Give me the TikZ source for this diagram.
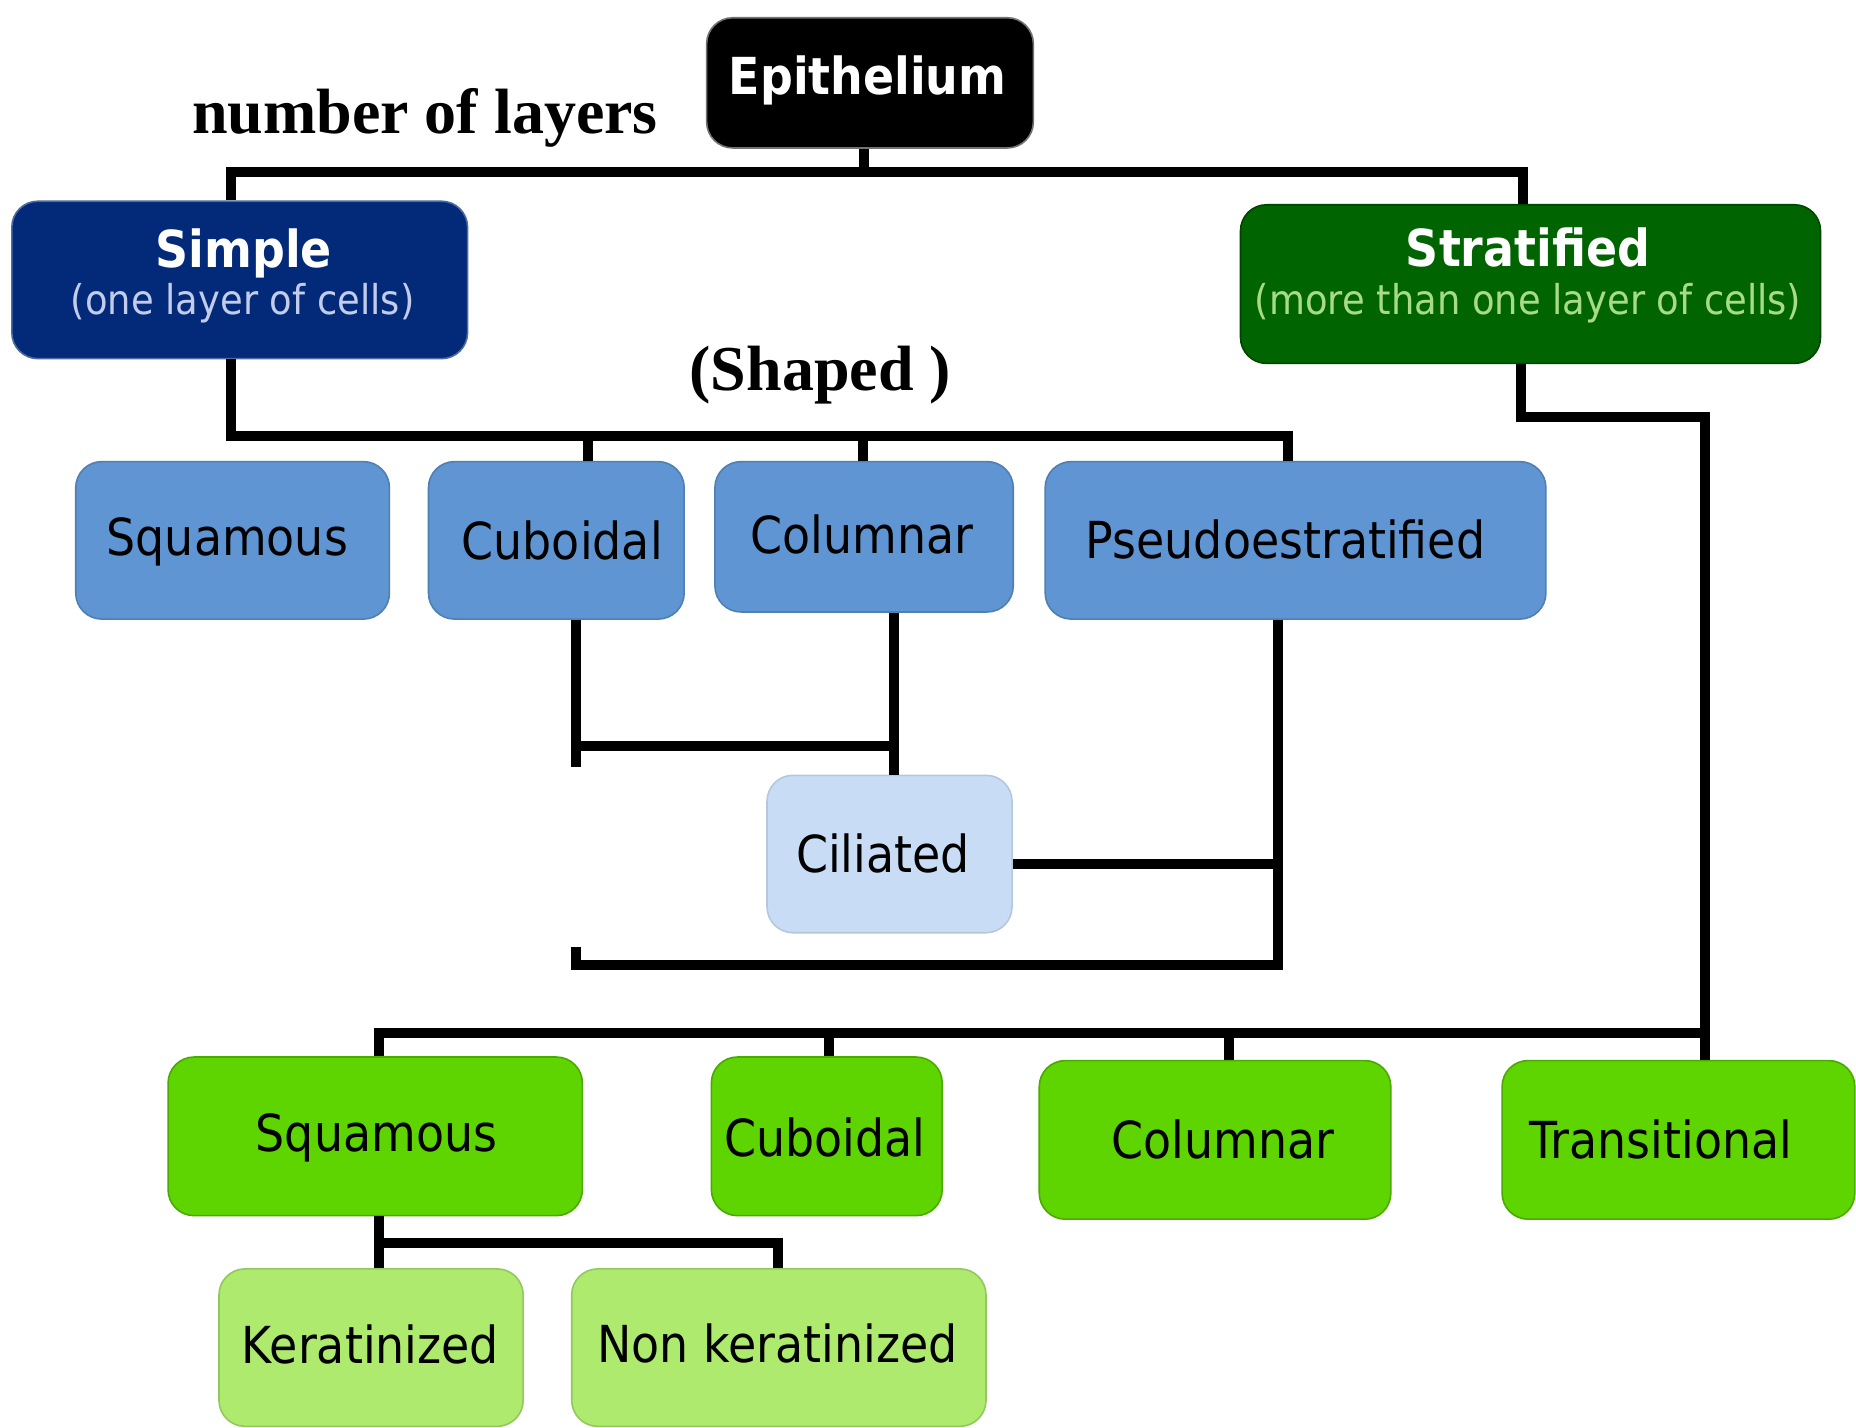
\documentclass[tikz,border=0pt]{standalone}
\usepackage{fontspec}
\usetikzlibrary{fit}
\newfontfamily\dv{DejaVu Sans}[FakeStretch=0.9]
\newfontfamily\tnr{Liberation Serif}
\definecolor{epic}{HTML}{000000}
\definecolor{simplec}{HTML}{022A78}
\definecolor{stratc}{HTML}{006400}
\definecolor{rowtwo}{HTML}{5E95D2}
\definecolor{ciliac}{HTML}{C8DDF5}
\definecolor{rowthree}{HTML}{5ED400}
\definecolor{rowfour}{HTML}{AEEA6E}
\definecolor{subblue}{HTML}{C3CDEB}
\definecolor{subgreen}{HTML}{A8DC84}
\tikzset{
  box/.style={rounded corners=13pt, inner sep=0pt, line width=0.8pt},
  lab/.style={inner sep=0pt, anchor=base, font=\dv\fontsize{25.5}{30}\selectfont},
  titl/.style={inner sep=0pt, anchor=base, text=white, font=\dv\bfseries\fontsize{25.5}{30}\selectfont},
  subt/.style={inner sep=0pt, anchor=base, font=\dv\fontsize{20.5}{24}\selectfont},
  conn/.style={line width=5pt, line join=miter},
  serifl/.style={font=\tnr\bfseries\fontsize{32}{36}\selectfont, inner sep=0pt}
}
\begin{document}
\begin{tikzpicture}[x=0.5918pt, y=-0.5918pt]
\useasboundingbox (0,0) rectangle (1568,1206);
\fill[white] (0,0) rectangle (1568,1206);
% boxes
\node[box, fill=epic, draw=black!55, fit={(597,15) (873,125)}] (epi) {};
\node[box, fill=simplec, draw=simplec!70!white, fit={(10,170) (395,303)}] (simple) {};
\node[box, fill=stratc, draw=stratc!70!black, fit={(1048,173) (1538,307)}] (strat) {};
\node[box, fill=rowtwo, draw=rowtwo!85!black, fit={(64,390) (329,523)}] (sq1) {};
\node[box, fill=rowtwo, draw=rowtwo!85!black, fit={(362,390) (578,523)}] (cub1) {};
\node[box, fill=rowtwo, draw=rowtwo!85!black, fit={(604,390) (856,517)}] (col1) {};
\node[box, fill=rowtwo, draw=rowtwo!85!black, fit={(883,390) (1306,523)}] (pse) {};
\node[box, fill=ciliac, draw=ciliac!90!black, fit={(648,655) (855,788)}] (cil) {};
\node[box, fill=rowthree, draw=rowthree!80!black, fit={(142,893) (492,1027)}] (sq2) {};
\node[box, fill=rowthree, draw=rowthree!80!black, fit={(601,893) (796,1027)}] (cub2) {};
\node[box, fill=rowthree, draw=rowthree!80!black, fit={(878,896) (1175,1030)}] (col2) {};
\node[box, fill=rowthree, draw=rowthree!80!black, fit={(1269,896) (1567,1030)}] (trans) {};
\node[box, fill=rowfour, draw=rowfour!85!black, fit={(185,1072) (442,1205)}] (ker) {};
\node[box, fill=rowfour, draw=rowfour!85!black, fit={(483,1072) (833,1205)}] (nonk) {};
% texts
\node[titl] (tepi) at (733,80) {Epithelium};
\node[titl] (tsim) at (206,226) {Simple};
\node[subt, text=subblue] (tsim2) at (205,266) {(one layer of cells)};
\node[titl] (tstr) at (1291,225) {Stratified};
\node[subt, text=subgreen] (tstr2) at (1291,266) {(more than one layer of cells)};
\node[lab] (tsq1) at (192,469) {Squamous};
\node[lab] (tcub1) at (475,473) {Cuboidal};
\node[lab] (tcol1) at (728,468) {Columnar};
\node[lab] (tpse) at (1086,472) {Pseudoestratified};
\node[lab] (tcil) at (746,737) {Ciliated};
\node[lab] (tsq2) at (318,973) {Squamous};
\node[lab] (tcub2) at (697,977) {Cuboidal};
\node[lab] (tcol2) at (1033,979) {Columnar};
\node[lab] (ttra) at (1403,979) {Transitional};
\node[lab] (tker) at (313,1152) {Keratinized};
\node[lab] (tnonk) at (657,1151) {Non keratinized};
% labels
\node[serifl, anchor=base] (nl) at (359,113) {number of layers};
\node[serifl, anchor=base] (shp) at (693,330) {(Shaped )};
% coordinates
\coordinate (t1) at (195,145);
\coordinate (t2) at (1287,145);
\coordinate (b1) at (195,368);
\coordinate (b2) at (1088,368);
\coordinate (jc) at (497,368);
\coordinate (jl) at (729,368);
\coordinate (c1) at (487,630);
\coordinate (c2) at (755,630);
\coordinate (cend) at (487,648);
\coordinate (p1) at (1080,730);
\coordinate (p2) at (1080,815);
\coordinate (p3) at (487,815);
\coordinate (p4) at (487,800);
\coordinate (s1) at (1285,352);
\coordinate (s2) at (1440,352);
\coordinate (r1) at (320,873);
\coordinate (r2) at (1440,873);
\coordinate (rc) at (700,873);
\coordinate (rl) at (1038,873);
\coordinate (k1) at (320,1050);
\coordinate (k2) at (657,1050);
% connectors
\draw[conn] (epi.south -| 730,0) -- (730,145);
\draw[conn] (t1 |- simple.north) -- (t1) -- (t2) -- (t2 |- strat.north);
\draw[conn] (b1 |- simple.south) -- (b1) -- (b2) -- (b2 |- pse.north);
\draw[conn] (jc) -- (jc |- cub1.north);
\draw[conn] (jl) -- (jl |- col1.north);
\draw[conn] (c1 |- cub1.south) -- (cend);
\draw[conn] (c1) -- (c2);
\draw[conn] (c2 |- col1.south) -- (c2 |- cil.north);
\draw[conn] (p1 -| cil.east) -- (p1);
\draw[conn] (p1 |- pse.south) -- (p2) -- (p3) -- (p4);
\draw[conn] (s1 |- strat.south) -- (s1) -- (s2) -- (s2 |- trans.north);
\draw[conn] (r1 |- sq2.north) -- (r1) -- (r2);
\draw[conn] (rc) -- (rc |- cub2.north);
\draw[conn] (rl) -- (rl |- col2.north);
\draw[conn] (k1 |- sq2.south) -- (k1) -- (k2) -- (k2 |- nonk.north);
\draw[conn] (k1) -- (k1 |- ker.north);
\end{tikzpicture}
\end{document}
